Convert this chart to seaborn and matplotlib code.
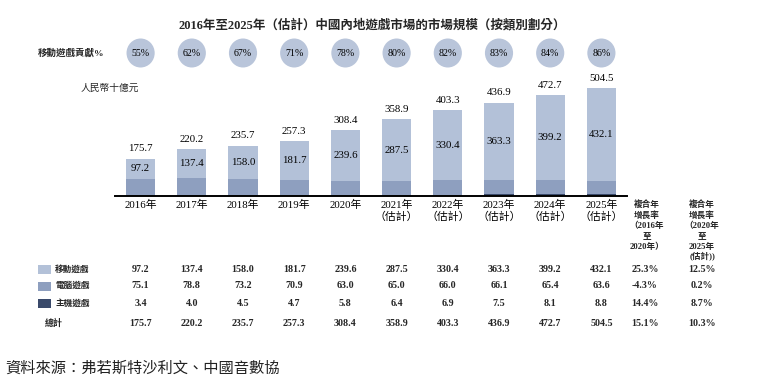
import matplotlib
matplotlib.use("Agg")
import matplotlib.pyplot as plt
import matplotlib.transforms as mtransforms
from matplotlib.patches import Ellipse, Rectangle
import seaborn as sns
import pandas as pd

# ---------------- data ----------------
years = ["2016年", "2017年", "2018年", "2019年", "2020年",
         "2021年\n（估計）", "2022年\n（估計）", "2023年\n（估計）",
         "2024年\n（估計）", "2025年\n（估計）"]
mobile = [97.2, 137.4, 158.0, 181.7, 239.6, 287.5, 330.4, 363.3, 399.2, 432.1]
pc = [75.1, 78.8, 73.2, 70.9, 63.0, 65.0, 66.0, 66.1, 65.4, 63.6]
console = [3.4, 4.0, 4.5, 4.7, 5.8, 6.4, 6.9, 7.5, 8.1, 8.8]
total = [175.7, 220.2, 235.7, 257.3, 308.4, 358.9, 403.3, 436.9, 472.7, 504.5]
mobile_share = ["55%", "62%", "67%", "71%", "78%", "80%", "82%", "83%", "84%", "86%"]
row_names = ["移動遊戲", "電腦遊戲", "主機遊戲", "總計"]
cagr_16_20 = ["25.3%", "-4.3%", "14.4%", "15.1%"]
cagr_20_25 = ["12.5%", "0.2%", "8.7%", "10.3%"]
cagr_head_1 = ["複合年", "增長率", "（2016年", "至", "2020年）"]
cagr_head_2 = ["複合年", "增長率", "（2020年", "至", "2025年", "(估計))"]

df = pd.DataFrame({"year": years, "mobile": mobile, "pc": pc,
                   "console": console, "total": total})
df["pc_cum"] = df["pc"] + df["console"]
df["all_cum"] = df["mobile"] + df["pc_cum"]

# ---------------- style ----------------
sns.set_theme(style="white")
FAM = ["Liberation Serif", "Noto Sans CJK TC"]
plt.rcParams["font.family"] = FAM
plt.rcParams["axes.unicode_minus"] = False

C_LIGHT = "#B3C1D8"
C_MID = "#8E9FBF"
C_DARK = "#3A4A6B"
C_CIRC = "#B9C5DA"

W, H = 771, 390
fig = plt.figure(figsize=(W / 100, H / 100), dpi=100)
fig.patch.set_facecolor("white")

# axes box in pixel terms: x 115..627, y 80..196 (top-down)
ax = fig.add_axes([115 / W, 1 - 196 / H, (627 - 115) / W, (196 - 80) / H])
ax.set_facecolor("white")

bw = 0.57
sns.barplot(data=df, x="year", y="all_cum", color=C_LIGHT, saturation=1,
            width=bw, linewidth=0, ax=ax)
sns.barplot(data=df, x="year", y="pc_cum", color=C_MID, saturation=1,
            width=bw, linewidth=0, ax=ax)
sns.barplot(data=df, x="year", y="console", color=C_DARK, saturation=1,
            width=bw, linewidth=0, ax=ax)

ax.set_xlim(-0.5, 9.5)
ax.set_ylim(0, 544)
ax.set_xlabel("")
ax.set_ylabel("")
ax.set_yticks([])
for s in ["top", "right", "left"]:
    ax.spines[s].set_visible(False)
ax.spines["bottom"].set_color("black")
ax.spines["bottom"].set_linewidth(1.4)
ax.tick_params(axis="x", length=0, pad=3, labelsize=7.8, colors="black")
for lbl in ax.get_xticklabels():
    lbl.set_linespacing(1.1)
    lbl.set_family(FAM)

# labels on bars
for i, row in df.iterrows():
    ax.annotate(f"{row['total']:.1f}", (i, row["all_cum"]), xytext=(0, 7.2),
                textcoords="offset points", ha="center", va="center",
                fontsize=7.8, color="black", annotation_clip=False)
    ax.text(i, row["pc_cum"] + row["mobile"] / 2, f"{row['mobile']:.1f}",
            ha="center", va="center", fontsize=7.8, color="black")

tr = mtransforms.blended_transform_factory(ax.transData, fig.transFigure)


def fy(py):
    return 1 - py / H


# title
fig.text(372 / W, fy(25), "2016年至2025年（估計）中國內地遊戲市場的市場規模（按類別劃分）",
         ha="center", va="center", fontsize=9, fontweight="bold")

# mobile share circles
fig.text(38 / W, fy(53), "移動遊戲貢獻%", ha="left", va="center",
         fontsize=6.8, fontweight="bold")
for i, s in enumerate(mobile_share):
    e = Ellipse((i, fy(53)), width=0.55, height=29 / H, transform=tr,
                facecolor=C_CIRC, edgecolor="none", clip_on=False)
    fig.add_artist(e)
    fig.text(i, fy(53), s, transform=tr, ha="center", va="center",
             fontsize=7.2, color="black")

fig.text(81 / W, fy(88), "人民幣十億元", ha="left", va="center", fontsize=7)

# CAGR headers
x_c1 = 9.5 + (647 - 627) / 51.1
x_c2 = 9.5 + (702 - 627) / 51.1
for k, t in enumerate(cagr_head_1):
    fig.text(x_c1, fy(205 + 10.4 * k), t, transform=tr, ha="center",
             va="center", fontsize=6.2, fontweight="bold")
for k, t in enumerate(cagr_head_2):
    fig.text(x_c2, fy(205 + 10.4 * k), t, transform=tr, ha="center",
             va="center", fontsize=6.2, fontweight="bold")

# table
row_y = [269, 286, 303, 323]
series = [mobile, pc, console, total]
colors = [C_LIGHT, C_MID, C_DARK]
for r in range(4):
    y = fy(row_y[r])
    if r < 3:
        fig.add_artist(Rectangle((38 / W, fy(row_y[r] + 4.5)), 13 / W, 9 / H,
                                 transform=fig.transFigure, facecolor=colors[r],
                                 edgecolor="none"))
        fig.text(55 / W, y, row_names[r], ha="left", va="center",
                 fontsize=6.2, fontweight="bold")
    else:
        fig.text(45 / W, y, row_names[r], ha="left", va="center",
                 fontsize=6.5, fontweight="bold")
    for i, v in enumerate(series[r]):
        fig.text(i, y, f"{v:.1f}", transform=tr, ha="center", va="center",
                 fontsize=7.2, fontweight="bold")
    fig.text(x_c1 - 0.04, y, cagr_16_20[r], transform=tr, ha="center",
             va="center", fontsize=7.2, fontweight="bold")
    fig.text(x_c2, y, cagr_20_25[r], transform=tr, ha="center",
             va="center", fontsize=7.2, fontweight="bold")

# source
fig.text(5 / W, fy(369), "資料來源：弗若斯特沙利文、中國音數協", ha="left",
         va="center", fontsize=11, style="italic", color="#222222")

fig.savefig("out.png", dpi=100, facecolor="white")
